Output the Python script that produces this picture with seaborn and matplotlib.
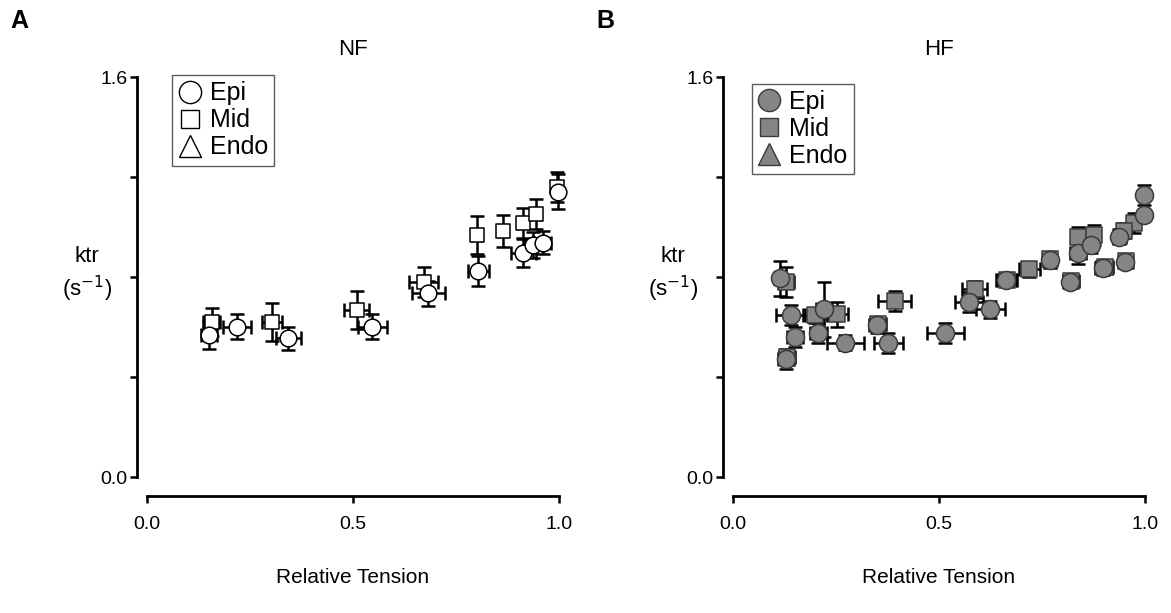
import numpy as np
import pandas as pd
import matplotlib
matplotlib.use("Agg")
import matplotlib.pyplot as plt
from matplotlib.lines import Line2D
import seaborn as sns

# NF panel (A)
nf_epi_x = [0.150, 0.219, 0.343, 0.547, 0.683, 0.804, 0.913, 0.938, 0.960, 0.997]
nf_epi_y = [0.568, 0.601, 0.555, 0.601, 0.735, 0.825, 0.897, 0.928, 0.937, 1.141]
nf_epi_xerr = [0.020, 0.034, 0.030, 0.035, 0.040, 0.025, 0.030, 0.020, 0.020, 0.005]
nf_epi_yerr = [0.055, 0.050, 0.045, 0.050, 0.050, 0.060, 0.055, 0.050, 0.045, 0.070]

nf_mid_x = [0.157, 0.303, 0.509, 0.672, 0.800, 0.863, 0.913, 0.944, 0.995]
nf_mid_y = [0.621, 0.621, 0.668, 0.781, 0.968, 0.985, 1.015, 1.052, 1.160]
nf_mid_xerr = [0.020, 0.025, 0.030, 0.035, 0.010, 0.010, 0.012, 0.012, 0.005]
nf_mid_yerr = [0.055, 0.075, 0.075, 0.060, 0.075, 0.065, 0.060, 0.060, 0.060]

# HF panel (B)
hf_epi_x = [0.114, 0.140, 0.150, 0.129, 0.221, 0.207, 0.273, 0.350, 0.377, 0.515, 0.573,
            0.624, 0.663, 0.769, 0.818, 0.837, 0.870, 0.899, 0.938, 0.951, 0.998, 0.998]
hf_epi_y = [0.795, 0.648, 0.559, 0.471, 0.671, 0.577, 0.537, 0.608, 0.535, 0.575, 0.699,
            0.671, 0.788, 0.868, 0.781, 0.897, 0.928, 0.835, 0.961, 0.861, 1.048, 1.128]
hf_epi_xerr = [0.015, 0.035, 0.020, 0.020, 0.020, 0.020, 0.045, 0.020, 0.035, 0.045, 0.035,
               0.035, 0.025, 0.012, 0.015, 0.020, 0.010, 0.020, 0.015, 0.015, 0.005, 0.005]
hf_epi_yerr = [0.070, 0.040, 0.040, 0.040, 0.110, 0.040, 0.030, 0.030, 0.040, 0.040, 0.040,
               0.035, 0.025, 0.030, 0.025, 0.045, 0.030, 0.025, 0.030, 0.020, 0.020, 0.040]

hf_mid_x = [0.129, 0.199, 0.253, 0.393, 0.587, 0.719, 0.838, 0.875, 0.973, 0.950,
            0.131, 0.352, 0.820, 0.902, 0.953, 0.665, 0.770]
hf_mid_y = [0.781, 0.648, 0.652, 0.705, 0.751, 0.832, 0.961, 0.968, 1.015, 0.985,
            0.480, 0.612, 0.785, 0.840, 0.865, 0.790, 0.872]
hf_mid_xerr = [0.020, 0.030, 0.025, 0.040, 0.030, 0.025, 0.015, 0.015, 0.012, 0.012,
               0.020, 0.020, 0.020, 0.020, 0.015, 0.025, 0.012]
hf_mid_yerr = [0.060, 0.030, 0.050, 0.040, 0.035, 0.030, 0.040, 0.040, 0.040, 0.030,
               0.030, 0.030, 0.025, 0.025, 0.020, 0.025, 0.030]

regions = ["Epi", "Mid", "Endo"]
markers = {"Epi": "o", "Mid": "s", "Endo": "^"}


def make_df(epi, mid):
    rows = []
    for region, (x, y, xe, ye) in zip(["Epi", "Mid"], [epi, mid]):
        rows.append(pd.DataFrame({"x": x, "y": y, "xerr": xe, "yerr": ye, "Region": region}))
    return pd.concat(rows, ignore_index=True)


nf = make_df((nf_epi_x, nf_epi_y, nf_epi_xerr, nf_epi_yerr),
             (nf_mid_x, nf_mid_y, nf_mid_xerr, nf_mid_yerr))
hf = make_df((hf_epi_x, hf_epi_y, hf_epi_xerr, hf_epi_yerr),
             (hf_mid_x, hf_mid_y, hf_mid_xerr, hf_mid_yerr))

sns.set_style("ticks")
plt.rcParams["font.family"] = ["Liberation Sans", "DejaVu Sans"]
for key in ["text.color", "axes.labelcolor", "xtick.color", "ytick.color"]:
    plt.rcParams[key] = "black"
narrow = ["Liberation Sans Narrow", "Liberation Sans", "DejaVu Sans"]

fig = plt.figure(figsize=(11.71, 6.13), dpi=100)
ax_a = fig.add_axes([147 / 1171, 136 / 613, 412 / 1171, 400 / 613])
ax_b = fig.add_axes([733 / 1171, 136 / 613, 412 / 1171, 400 / 613])


def draw_panel(ax, df, face, edge, ms, title, leg_anchor, sq_scale):
    # mid squares under circles
    for region in ["Mid", "Epi"]:
        sub = df[df["Region"] == region]
        ax.errorbar(sub["x"], sub["y"], xerr=sub["xerr"], yerr=sub["yerr"], fmt="none",
                    ecolor="black", elinewidth=1.8, capsize=5, capthick=1.8,
                    clip_on=False, zorder=2)
        m = ms * (sq_scale if region == "Mid" else 1.0)
        sns.scatterplot(data=sub, x="x", y="y", marker=markers[region], s=m ** 2,
                        color=face, edgecolor=edge, linewidth=1.1, ax=ax,
                        legend=False, clip_on=False, zorder=3)
    ax.set_xlim(0, 1.0)
    ax.set_ylim(0, 1.6)
    ax.set_xticks([0, 0.5, 1.0])
    ax.set_xticklabels(["0.0", "0.5", "1.0"])
    ax.set_yticks([0, 0.4, 0.8, 1.2, 1.6])
    ax.set_yticklabels(["0.0", "", "", "", "1.6"])
    ax.tick_params(axis="both", direction="out", length=5, width=1.8, color="black",
                   labelsize=14, labelfontfamily=narrow)
    ax.tick_params(axis="x", pad=9)
    ax.tick_params(axis="y", pad=2)
    for side in ["left", "bottom"]:
        ax.spines[side].set_linewidth(2.0)
        ax.spines[side].set_color("black")
    sns.despine(ax=ax, offset={"left": 7, "bottom": 14})
    ax.set_xlabel("Relative Tension", family=narrow, fontsize=15, labelpad=25)
    ax.set_ylabel("ktr\n(s$^{-1}$)", fontsize=16, rotation=0, labelpad=28,
                  va="center", linespacing=1.3)
    ax.yaxis.set_label_coords(-0.145, 0.505)
    ax.set_title(title, fontsize=16, pad=16)
    handles = [Line2D([], [], linestyle="none", marker=markers[r],
                      markersize=16 * (0.8 if r == "Mid" else 1.0),
                      markerfacecolor=face, markeredgecolor=edge, markeredgewidth=1.0,
                      label=r) for r in regions]
    leg = ax.legend(handles=handles, loc="upper left", bbox_to_anchor=leg_anchor,
                    frameon=True, fancybox=False, fontsize=18, handlelength=0.9,
                    handletextpad=0.35, borderpad=0.25, labelspacing=0.12,
                    borderaxespad=0)
    leg.get_frame().set_edgecolor("#333333")
    leg.get_frame().set_linewidth(1.0)


draw_panel(ax_a, nf, "white", "black", 12, "NF", (0.061, 1.005), 0.8)
draw_panel(ax_b, hf, "#858585", "#3a3a3a", 13, "HF", (0.045, 0.983), 0.85)

fig.text(10 / 1171, 1 - 21 / 613, "A", fontsize=18, fontweight="bold", va="center")
fig.text(596 / 1171, 1 - 21 / 613, "B", fontsize=18, fontweight="bold", va="center")

fig.savefig("out.png", dpi=100)
